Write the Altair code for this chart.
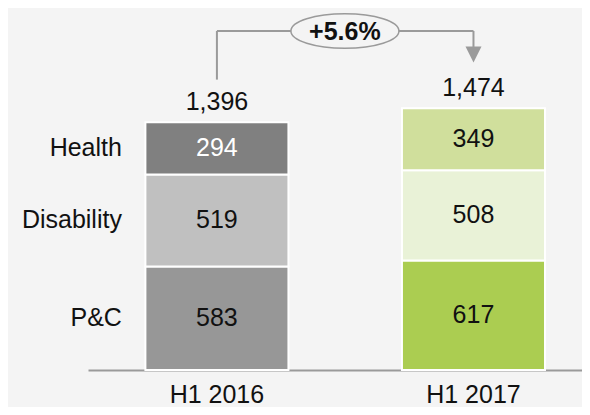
import altair as alt
import pandas as pd

# ---- data ----
periods = ["H1 2016", "H1 2017"]
segments = ["P&C", "Disability", "Health"]
values_2016 = [583, 519, 294]
values_2017 = [617, 508, 349]
totals = [1396, 1474]
total_labels = ["1,396", "1,474"]
growth_label = "+5.6%"
colors_2016 = ["#979797", "#c0c0c0", "#808080"]
colors_2017 = ["#abcd51", "#e9f2d7", "#d0df9c"]
text_colors_2016 = ["#111111", "#111111", "#ffffff"]
text_colors_2017 = ["#111111", "#111111", "#111111"]

FONT = "Liberation Sans"
FS = 25
LINE = "#9a9a9a"
BG = "#f4f4f4"

rows = []
for period, vals, cols, tcols in zip(periods, [values_2016, values_2017],
                                     [colors_2016, colors_2017],
                                     [text_colors_2016, text_colors_2017]):
    base = 0
    for seg, v, c, tc in zip(segments, vals, cols, tcols):
        rows.append(dict(period=period, segment=seg, value=v, y0=base, y1=base + v,
                         mid=base + v / 2, color=c, tcolor=tc))
        base += v
df = pd.DataFrame(rows)
df_tot = pd.DataFrame({"period": periods, "total": totals, "label": total_labels})

# bracket levels in data units, relative to totals
bracket_top = max(totals) + 436
left_bottom = totals[0] + 240
arrow_top = totals[1] + 346
arrow_mid = totals[1] + 304

df_vert = pd.DataFrame({"period": periods, "y": [left_bottom, arrow_top],
                        "y2": [bracket_top, bracket_top]})
df_horiz = pd.DataFrame({"x": [periods[0]], "x2": [periods[1]], "y": [bracket_top]})
df_arrow = pd.DataFrame({"period": [periods[1]], "y": [arrow_mid]})
df_growth = pd.DataFrame({"period": [periods[0]], "y": [bracket_top], "label": [growth_label]})

xscale = alt.Scale(domain=periods, paddingInner=0.4425, paddingOuter=0.184, align=0.608)
yscale = alt.Scale(domain=[0, 2000], nice=False, zero=True)

x_enc = alt.X("period:N", scale=xscale,
              axis=alt.Axis(title=None, labelAngle=0, ticks=False, tickSize=0, labelPadding=12,
                            labelFontSize=FS, labelFont=FONT, labelColor="#111111",
                            domainColor=LINE, domainWidth=2, grid=False))

bars = alt.Chart(df).mark_bar(stroke="#ffffff", strokeWidth=2).encode(
    x=x_enc,
    y=alt.Y("y1:Q", scale=yscale, axis=None),
    y2="y0:Q",
    color=alt.Color("color:N", scale=None),
)

seg_text = alt.Chart(df).mark_text(font=FONT, fontSize=FS, baseline="middle").encode(
    x=alt.X("period:N", scale=xscale),
    y=alt.Y("mid:Q", scale=yscale),
    text="value:Q",
    color=alt.Color("tcolor:N", scale=None),
)

cat_text = alt.Chart(df[df["period"] == periods[0]]).mark_text(
    font=FONT, fontSize=FS, baseline="middle", align="right", dx=-95, color="#111111"
).encode(
    x=alt.X("period:N", scale=xscale),
    y=alt.Y("mid:Q", scale=yscale),
    text="segment:N",
)

tot_text = alt.Chart(df_tot).mark_text(
    font=FONT, fontSize=FS, baseline="alphabetic", dy=-12, color="#111111"
).encode(
    x=alt.X("period:N", scale=xscale),
    y=alt.Y("total:Q", scale=yscale),
    text="label:N",
)

vert = alt.Chart(df_vert).mark_rule(color=LINE, strokeWidth=2).encode(
    x=alt.X("period:N", scale=xscale),
    y=alt.Y("y:Q", scale=yscale),
    y2="y2:Q",
)

horiz = alt.Chart(df_horiz).mark_rule(color=LINE, strokeWidth=2).encode(
    x=alt.X("x:N", scale=xscale),
    x2="x2:N",
    y=alt.Y("y:Q", scale=yscale),
)

arrow = alt.Chart(df_arrow).mark_point(
    shape="M -1 -1 L 1 -1 L 0 1 Z", size=256, filled=True, color=LINE, opacity=1
).encode(
    x=alt.X("period:N", scale=xscale),
    y=alt.Y("y:Q", scale=yscale),
)

ellipse = alt.Chart(df_growth).mark_point(
    shape="M -1 0 A 1 0.32 0 1 1 1 0 A 1 0.32 0 1 1 -1 0 Z",
    size=108 * 108, filled=True, color=BG, stroke=LINE, strokeWidth=1.5,
    opacity=1, xOffset=128,
).encode(
    x=alt.X("period:N", scale=xscale),
    y=alt.Y("y:Q", scale=yscale),
)

growth = alt.Chart(df_growth).mark_text(
    font=FONT, fontSize=FS, fontWeight="bold", baseline="middle", dx=128, dy=1, color="#111111"
).encode(
    x=alt.X("period:N", scale=xscale),
    y=alt.Y("y:Q", scale=yscale),
    text="label:N",
)

chart = alt.layer(bars, seg_text, cat_text, tot_text, vert, horiz, arrow, ellipse, growth).properties(
    width=494, height=355,
    autosize=alt.AutoSizeParams(type="none"),
    padding={"left": 80, "top": 7, "right": 0, "bottom": 37},
    background=BG,
).configure_view(stroke=None)

chart.save("out.html", embed_options={"renderer": "svg", "actions": False})
